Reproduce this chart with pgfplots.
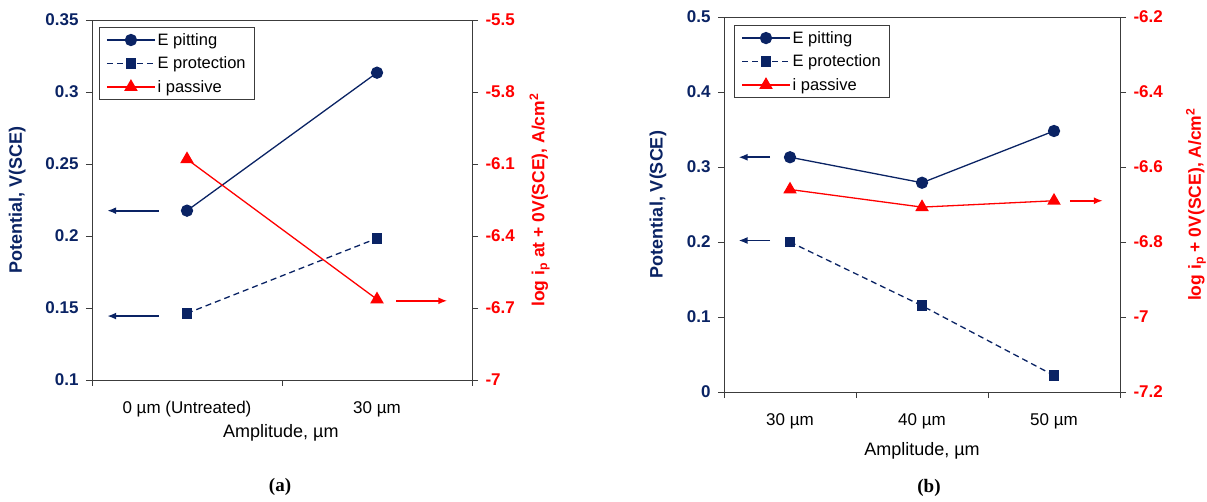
\documentclass[border=0pt]{standalone}
\usepackage{fontspec}
\setmainfont{Liberation Sans}
\newfontfamily\capfont{Liberation Serif}
\usepackage{pgfplots}
\pgfplotsset{compat=1.18}
\usetikzlibrary{arrows.meta}
\definecolor{navy}{RGB}{10,35,100}
\definecolor{pred}{RGB}{255,0,0}
\definecolor{frame}{RGB}{60,60,60}
\tikzset{arr/.style={line width=1.7pt, -{Latex[length=9pt,width=7pt]}}}

\pgfplotsset{
  base/.style={scale only axis, anchor=north west, tick align=outside,
    major tick length=6pt, minor tick length=6pt,
    axis line style={frame, line width=0.9pt},
    major tick style={frame, line width=0.9pt},
    minor tick style={frame, line width=0.9pt},
    clip=false},
  leftax/.style={base, ytick pos=left, xtick pos=bottom,
    major x tick style={draw=none},
    yticklabel style={font=\fontsize{17}{20}\selectfont\bfseries, text=navy, xshift=-4pt},
    xticklabel style={font=\fontsize{17}{20}\selectfont, text=black, yshift=-12pt},
    ylabel style={font=\fontsize{18}{21}\selectfont\bfseries, text=navy, anchor=center},
    xlabel style={font=\fontsize{18}{21}\selectfont, text=black, anchor=center}},
  rightax/.style={base, axis y line*=right, axis x line=none,
    yticklabel style={font=\fontsize{17}{20}\selectfont\bfseries, text=pred, xshift=4pt},
    ylabel style={font=\fontsize{17.5}{21}\selectfont\bfseries, text=pred, anchor=center},
    legend cell align=left,
    legend image code/.code={\draw[mark repeat=2, mark phase=2] plot coordinates {(0pt,0pt) (24pt,0pt) (48pt,0pt)};},
    legend style={anchor=north west, draw=frame, line width=0.9pt, fill=white,
      font=\fontsize{16.5}{19}\selectfont, inner xsep=7pt, inner ysep=4pt, row sep=6pt,
      /tikz/every even column/.append style={column sep=6pt}}},
  pit/.style={navy, line width=1.3pt, mark=*, mark size=5.5pt, mark options={solid}},
  prot/.style={navy, line width=1.3pt, dash pattern=on 6pt off 4pt, mark=square*, mark size=4.6pt, mark options={solid}},
  pas/.style={pred, line width=1.3pt, mark=triangle*, mark size=6.5pt, mark options={solid}},
}

\begin{document}
\begin{tikzpicture}
\useasboundingbox (0,0) rectangle (1207pt,-502pt);

% ---------- panel (a) ----------
\begin{axis}[leftax, at={(92pt,-20pt)}, width=380pt, height=360pt,
  xmin=-0.5, xmax=1.5, ymin=0.1, ymax=0.35,
  ytick={0.1,0.15,0.2,0.25,0.3,0.35}, yticklabels={0.1,0.15,0.2,0.25,0.3,0.35},
  xtick={0,1}, xticklabels={0 µm (Untreated),30 µm},
  minor xtick={-0.5,0.5,1.5},
  ylabel={Potential, V(SCE)}, ylabel style={at={(axis description cs:-0.197,0.5)}},
  xlabel={Amplitude, µm}, xlabel style={at={(axis description cs:0.497,-0.147)}}]
\addplot[pit] coordinates {(0,0.2176) (1,0.3134)};
\addplot[prot] coordinates {(0,0.1463) (1,0.1984)};
\draw[arr, navy] (axis cs:-0.15,0.2176) -- (axis cs:-0.42,0.2176);
\draw[arr, navy] (axis cs:-0.15,0.1444) -- (axis cs:-0.42,0.1444);
\end{axis}
\begin{axis}[rightax, at={(92pt,-20pt)}, width=380pt, height=360pt,
  xmin=-0.5, xmax=1.5, ymin=-7, ymax=-5.5,
  ytick={-7,-6.7,-6.4,-6.1,-5.8,-5.5}, yticklabels={-7,-6.7,-6.4,-6.1,-5.8,-5.5},
  ylabel={log i\textsubscript{p} at + 0V(SCE), A/cm\textsuperscript{2}},
  ylabel style={at={(axis description cs:1.178,0.5)}},
  legend style={at={(axis description cs:0.018,0.981)}}]
\addlegendimage{pit}\addlegendentry{E pitting}
\addlegendimage{prot}\addlegendentry{E protection}
\addplot[pas] coordinates {(0,-6.080) (1,-6.664)};
\addlegendentry{i passive}
\draw[arr, pred] (axis cs:1.10,-6.67) -- (axis cs:1.37,-6.67);
\end{axis}

% ---------- panel (b) ----------
\begin{axis}[leftax, at={(724pt,-17pt)}, width=396pt, height=375pt,
  xmin=-0.5, xmax=2.5, ymin=0, ymax=0.5,
  ytick={0,0.1,0.2,0.3,0.4,0.5}, yticklabels={0,0.1,0.2,0.3,0.4,0.5},
  xtick={0,1,2}, xticklabels={30 µm,40 µm,50 µm},
  minor xtick={-0.5,0.5,1.5,2.5},
  ylabel={Potential, V(SCE)}, ylabel style={at={(axis description cs:-0.167,0.5)}},
  xlabel={Amplitude, µm}, xlabel style={at={(axis description cs:0.5,-0.157)}}]
\addplot[pit] coordinates {(0,0.313) (1,0.279) (2,0.348)};
\addplot[prot] coordinates {(0,0.200) (1,0.115) (2,0.022)};
\draw[arr, navy] (axis cs:-0.15,0.313) -- (axis cs:-0.39,0.313);
\draw[arr, navy] (axis cs:-0.15,0.202) -- (axis cs:-0.39,0.202);
\end{axis}
\begin{axis}[rightax, at={(724pt,-17pt)}, width=396pt, height=375pt,
  xmin=-0.5, xmax=2.5, ymin=-7.2, ymax=-6.2,
  ytick={-7.2,-7,-6.8,-6.6,-6.4,-6.2}, yticklabels={-7.2,-7,-6.8,-6.6,-6.4,-6.2},
  ylabel={log i\textsubscript{p} + 0V(SCE), A/cm\textsuperscript{2}},
  ylabel style={at={(axis description cs:1.192,0.5)}},
  legend style={at={(axis description cs:0.025,0.979)}}]
\addlegendimage{pit}\addlegendentry{E pitting}
\addlegendimage{prot}\addlegendentry{E protection}
\addplot[pas] coordinates {(0,-6.66) (1,-6.707) (2,-6.69)};
\addlegendentry{i passive}
\draw[arr, pred] (axis cs:2.12,-6.69) -- (axis cs:2.37,-6.69);
\end{axis}

\node[font=\capfont\bfseries\fontsize{19}{22}\selectfont] at (280pt,-487pt) {(a)};
\node[font=\capfont\bfseries\fontsize{19}{22}\selectfont] at (929pt,-488pt) {(b)};
\end{tikzpicture}
\end{document}
